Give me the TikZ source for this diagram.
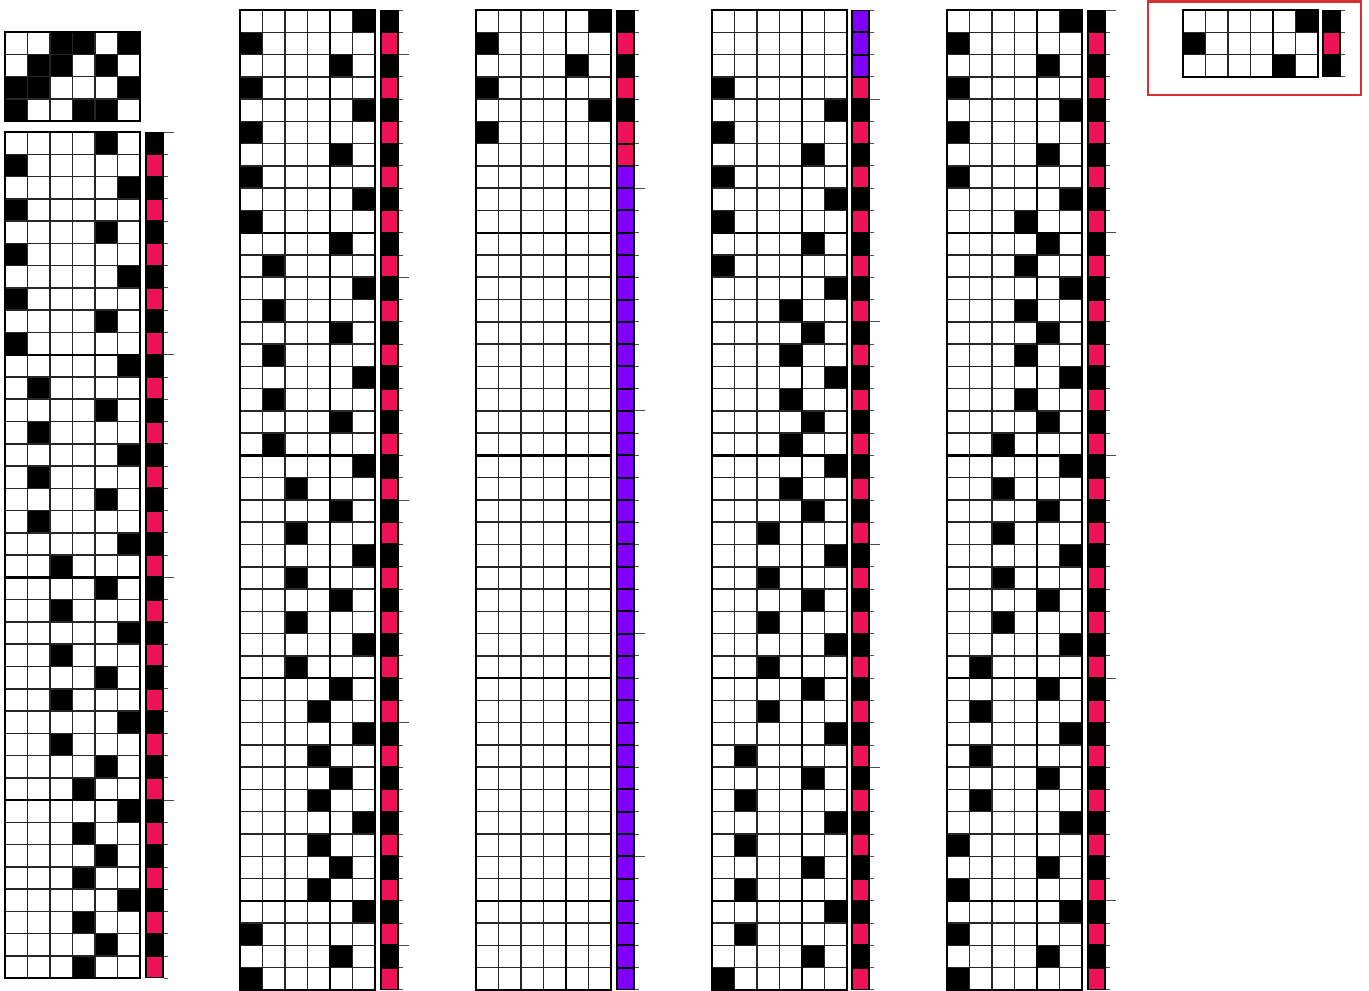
\documentclass[tikz,border=0pt]{standalone}
\usepackage{tikz}
\usetikzlibrary{calc}
\definecolor{stripered}{RGB}{238,18,88}
\definecolor{stripeviolet}{RGB}{128,0,255}
\definecolor{boxred}{RGB}{216,48,48}

\newcommand{\cw}{22.5}
\newcommand{\rh}{22.27}

\tikzset{
  gridline/.style={line width=1.5pt, draw=black!85},
  gridframe/.style={line width=2.4pt, draw=black},
  divider/.style={line width=2pt, draw=black},
  cellfill/.style={fill=black},
  tickline/.style={line width=0.8pt, draw=black!70},
}

% one black cell per row, 0 = empty row
\newcommand{\seqcells}[3]{%
  \foreach \c [count=\r] in {#3}
    {\ifnum\c>0 \fill[cellfill] ({#1+(\c-1)*\cw},{#2+(\r-1)*\rh}) rectangle ++(\cw,\rh);\fi}
}
% grid lines: x, y, rows, divider column (0 = none)
\newcommand{\seqgrid}[4]{%
  \foreach \i in {1,...,5}
    \draw[gridline] ({#1+\i*\cw},#2) -- ++(0,{#3*\rh});
  \foreach \j in {1,...,#3}
    \draw[gridline] (#1,{#2+\j*\rh}) -- ++({6*\cw},0);
  \foreach \j in {10,20,30,40}
    {\ifnum\j<#3 \draw[gridframe] (#1,{#2+\j*\rh}) -- ++({6*\cw},0);\fi}
  \ifnum#4>0 \draw[divider] ({#1+#4*\cw},#2) -- ++(0,{#3*\rh});\fi
  \draw[gridframe] (#1,#2) rectangle ++({6*\cw},{#3*\rh});
}
% colour stripe with short ticks
\newcommand{\stripe}[3]{%
  \fill[black] (#1,#2) rectangle ++(19,{#3*\rh});
  \foreach \j in {0,...,#3}
    \draw[tickline] ({#1+19},{#2+\j*\rh}) -- ++(4,0);
}
\newcommand{\stripecell}[4]{%
  \fill[#4] ({#1+2},{#2+(#3-1)*\rh+1}) rectangle ++(15,{\rh-2});
}
\newcommand{\majorticks}[3]{%
  \foreach \j in {#3}
    \draw[tickline] ({#1+19},{#2+\j*\rh}) -- ++(10,0);
}

\begin{document}
\begin{tikzpicture}[x=1pt, y=-1pt]
  \useasboundingbox (0,0) rectangle (1369,991);

  % column 1: start block
  \foreach \r/\c in {1/3,1/4,1/6,2/2,2/3,2/5,3/1,3/2,3/6,4/1,4/4,4/5}
    \fill[cellfill] ({5+(\c-1)*\cw},{32+(\r-1)*\rh}) rectangle ++(\cw,\rh);
  \seqgrid{5}{32}{4}{0}

  \seqcells{5}{132}{5,1,6,1,5,1,6,1,5,1, 6,2,5,2,6,2,5,2,6,3,
                    5,3,6,3,5,3,6,3,5,4, 6,4,5,4,6,4,5,4}
  \seqgrid{5}{132}{38}{0}
  \stripe{145}{132}{38}
  \foreach \r in {2,4,...,38} \stripecell{145}{132}{\r}{stripered};
  \majorticks{145}{132}{0,10,20,30}

  % column 2
  \seqcells{240}{10}{6,1,5,1,6,1,5,1,6,1, 5,2,6,2,5,2,6,2,5,2,
                     6,3,5,3,6,3,5,3,6,3, 5,4,6,4,5,4,6,4,5,4, 6,1,5,1}
  \seqgrid{240}{10}{44}{4}
  \stripe{380}{10}{44}
  \foreach \r in {2,4,...,44} \stripecell{380}{10}{\r}{stripered};
  \majorticks{380}{10}{2,12,22,32,42}

  % column 3
  \seqcells{476}{10}{6,1,5,1,6,1}
  \seqgrid{476}{10}{44}{4}
  \stripe{616}{10}{44}
  \foreach \r in {2,4,6,7} \stripecell{616}{10}{\r}{stripered};
  \foreach \r in {8,...,44} \stripecell{616}{10}{\r}{stripeviolet};
  \majorticks{616}{10}{8,18,28,38}

  % column 4
  \seqcells{712}{10}{0,0,0,1,6,1,5,1,6,1, 5,1,6,4,5,4,6,4,5,4,
                     6,4,5,3,6,3,5,3,6,3, 5,3,6,2,5,2,6,2,5,2, 6,2,5,1}
  \seqgrid{712}{10}{44}{4}
  \stripe{851}{10}{44}
  \foreach \r in {1,2,3} \stripecell{851}{10}{\r}{stripeviolet};
  \foreach \r in {4,6,...,44} \stripecell{851}{10}{\r}{stripered};
  \majorticks{851}{10}{4,14,24,34}

  % column 5
  \seqcells{947}{10}{6,1,5,1,6,1,5,1,6,4, 5,4,6,4,5,4,6,4,5,3,
                     6,3,5,3,6,3,5,3,6,2, 5,2,6,2,5,2,6,1,5,1, 6,1,5,1}
  \seqgrid{947}{10}{44}{4}
  \stripe{1087}{10}{44}
  \foreach \r in {2,4,...,44} \stripecell{1087}{10}{\r}{stripered};
  \majorticks{1087}{10}{0,10,20,30,40}

  % highlighted block
  \seqcells{1183}{10}{6,1,5}
  \seqgrid{1183}{10}{3}{4}
  \stripe{1322}{10}{3}
  \stripecell{1322}{10}{2}{stripered}
  \draw[boxred, line width=2.5pt] (1148,1.5) rectangle (1361,95);
\end{tikzpicture}
\end{document}
